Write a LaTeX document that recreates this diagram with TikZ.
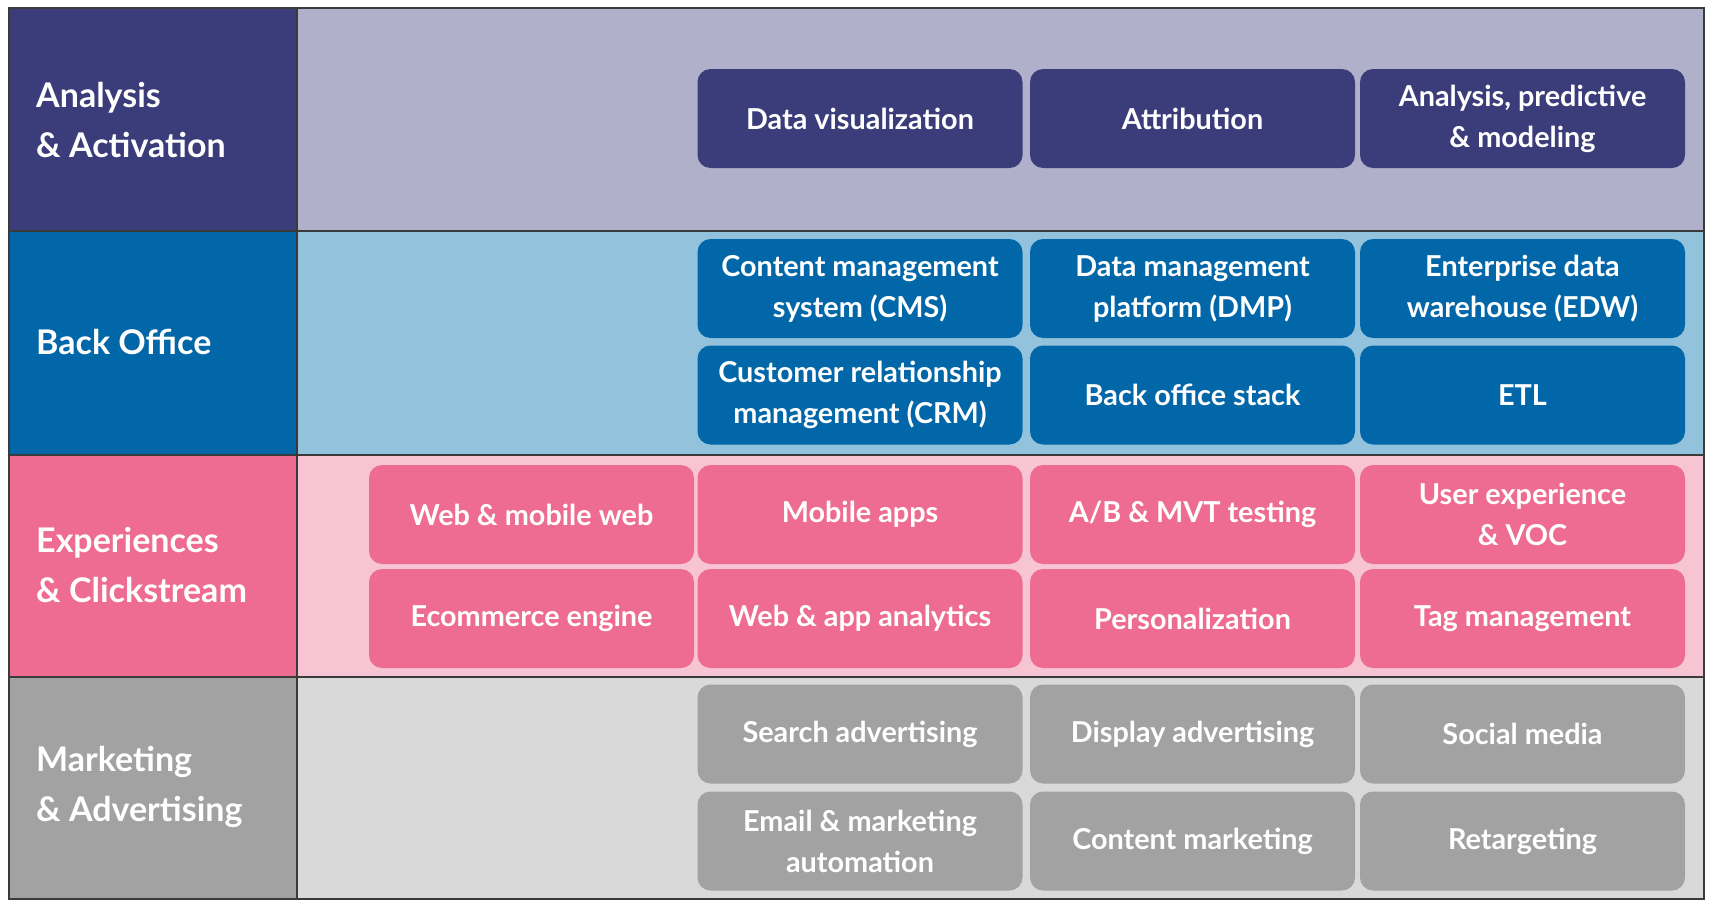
\documentclass[tikz,border=0pt]{standalone}
\usepackage{fontspec}
\setmainfont{Lato}
\definecolor{anaD}{HTML}{3B3D7B}
\definecolor{anaL}{HTML}{B0B0CA}
\definecolor{bckD}{HTML}{0267A9}
\definecolor{bckL}{HTML}{93C3DC}
\definecolor{expD}{HTML}{EE6C92}
\definecolor{expL}{HTML}{F7C4D3}
\definecolor{mktD}{HTML}{A2A2A2}
\definecolor{mktL}{HTML}{D9D9D9}
\definecolor{rule}{HTML}{3A3A3A}
\begin{document}
\begin{tikzpicture}[x=1pt,y=-1pt,
  cell/.style={rounded corners=13pt, minimum width=325pt, minimum height=99pt,
    inner sep=0pt, align=center, text=white,
    font=\fontsize{28.8}{41}\selectfont\bfseries},
  rowlabel/.style={anchor=west, align=left, text=white, inner sep=0pt,
    font=\fontsize{34}{50}\selectfont\bfseries},
  frame/.style={draw=rule, line width=2.5pt}]
\useasboundingbox (0,0) rectangle (1709,905);

% row bands: label column and content area
\fill[anaD] (9,8) rectangle (297,231);
\fill[anaL] (297,8) rectangle (1704,231);
\fill[bckD] (9,231) rectangle (297,455);
\fill[bckL] (297,231) rectangle (1704,455);
\fill[expD] (9,455) rectangle (297,677);
\fill[expL] (297,455) rectangle (1704,677);
\fill[mktD] (9,677) rectangle (297,899);
\fill[mktL] (297,677) rectangle (1704,899);

% grid lines
\draw[frame] (9,8) rectangle (1704,899);
\draw[frame] (297,8) -- (297,899);
\draw[frame] (9,231) -- (1704,231);
\draw[frame] (9,455) -- (1704,455);
\draw[frame] (9,677) -- (1704,677);

% row labels
\node[rowlabel] (lblA) at (36,120) {Analysis\\\& Activation};
\node[rowlabel] (lblB) at (36,342) {Back Office};
\node[rowlabel] (lblE) at (36,565) {Experiences\\\& Clickstream};
\node[rowlabel] (lblM) at (36,787) {Marketing\\\& Advertising};

% Analysis & Activation
\node[cell, fill=anaD] (dv) at (860,118.5) {Data visualization};
\node[cell, fill=anaD] (attr) at (1192.5,118.5) {Attribution};
\node[cell, fill=anaD] (apm) at (1522.5,118.5) {Analysis, predictive\\\& modeling};

% Back Office
\node[cell, fill=bckD] (cms) at (860,288.5) {Content management\\system (CMS)};
\node[cell, fill=bckD] (dmp) at (1192.5,288.5) {Data management\\platform (DMP)};
\node[cell, fill=bckD] (edw) at (1522.5,288.5) {Enterprise data\\warehouse (EDW)};
\node[cell, fill=bckD] (crm) at (860,395) {Customer relationship\\management (CRM)};
\node[cell, fill=bckD] (bos) at (1192.5,395) {Back office stack};
\node[cell, fill=bckD] (etl) at (1522.5,395) {ETL};

% Experiences & Clickstream
\node[cell, fill=expD] (web) at (531.5,514.5) {Web \& mobile web};
\node[cell, fill=expD] (apps) at (860,514.5) {Mobile apps};
\node[cell, fill=expD] (abt) at (1192.5,514.5) {A/B \& MVT testing};
\node[cell, fill=expD] (ux) at (1522.5,514.5) {User experience\\\& VOC};
\node[cell, fill=expD] (ecom) at (531.5,618.5) {Ecommerce engine};
\node[cell, fill=expD] (wan) at (860,618.5) {Web \& app analytics};
\node[cell, fill=expD] (pers) at (1192.5,618.5) {Personalization};
\node[cell, fill=expD] (tag) at (1522.5,618.5) {Tag management};

% Marketing & Advertising
\node[cell, fill=mktD] (search) at (860,734) {Search advertising};
\node[cell, fill=mktD] (disp) at (1192.5,734) {Display advertising};
\node[cell, fill=mktD] (social) at (1522.5,734) {Social media};
\node[cell, fill=mktD] (email) at (860,841) {Email \& marketing\\automation};
\node[cell, fill=mktD] (cmkt) at (1192.5,841) {Content marketing};
\node[cell, fill=mktD] (retg) at (1522.5,841) {Retargeting};
\end{tikzpicture}
\end{document}
